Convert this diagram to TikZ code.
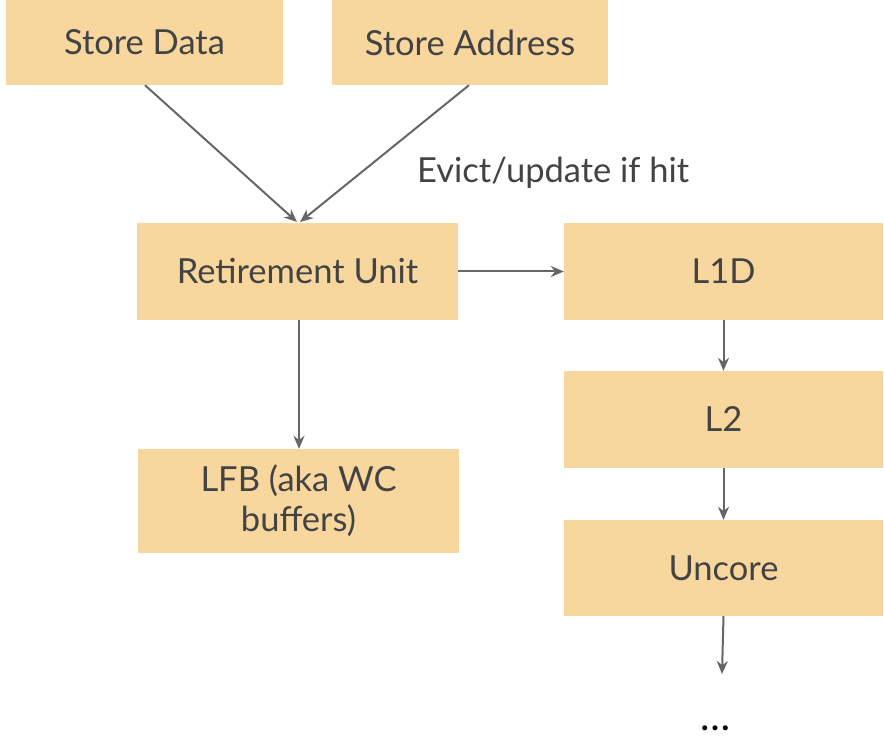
\documentclass[tikz,border=0pt]{standalone}
\usepackage{fontspec}
\setmainfont{Lato}
\usetikzlibrary{arrows.meta}
\definecolor{boxfill}{HTML}{F8D79E}
\definecolor{txt}{HTML}{434343}
\definecolor{arr}{HTML}{666666}
\begin{document}
\begin{tikzpicture}[x=1pt,y=-1pt,
  box/.style={fill=boxfill,draw=none,text=txt,font=\fontsize{34.5}{40}\selectfont,align=center,inner sep=0pt},
  conn/.style={draw=arr,line width=2pt,-{Stealth[length=13pt,width=11pt]}}]
\useasboundingbox (0,0) rectangle (884,743);
\node[box,minimum width=277pt,minimum height=85pt] (sd) at (144.5,42.5) {Store Data};
\node[box,minimum width=276pt,minimum height=85pt] (sa) at (470,42.5) {Store Address};
\node[box,minimum width=321pt,minimum height=97pt] (ru) at (297.5,271.5) {Retirement Unit};
\node[box,minimum width=319pt,minimum height=97pt] (l1) at (723.5,271.5) {L1D};
\node[box,minimum width=319pt,minimum height=97pt] (l2) at (723.5,419.5) {L2};
\node[box,minimum width=319pt,minimum height=96pt] (un) at (723.5,568) {Uncore};
\node[box,minimum width=321pt,minimum height=104pt] (lfb) at (298.5,501) {LFB (aka WC\\buffers)};
\node[text=txt,font=\fontsize{34.5}{40}\selectfont,anchor=west,inner sep=0pt] (ev) at (417,173) {Evict/update if hit};
\node[text=black,font=\fontsize{40}{44}\selectfont,inner sep=0pt] (dots) at (715,728) {\dots};
\coordinate (ruin1) at (297,222);
\coordinate (ruin2) at (300,222);
\coordinate (unout) at (722,674);
\draw[conn] (sd.south -| 145,0) -- (ruin1);
\draw[conn] (sa.south -| 469,0) -- (ruin2);
\draw[conn] (ru.east) -- (l1.west);
\draw[conn] (ru.south -| 299,0) -- (lfb.north -| 299,0);
\draw[conn] (l1.south) -- (l2.north);
\draw[conn] (l2.south) -- (un.north);
\draw[conn] (un.south) -- (unout);
\end{tikzpicture}
\end{document}
